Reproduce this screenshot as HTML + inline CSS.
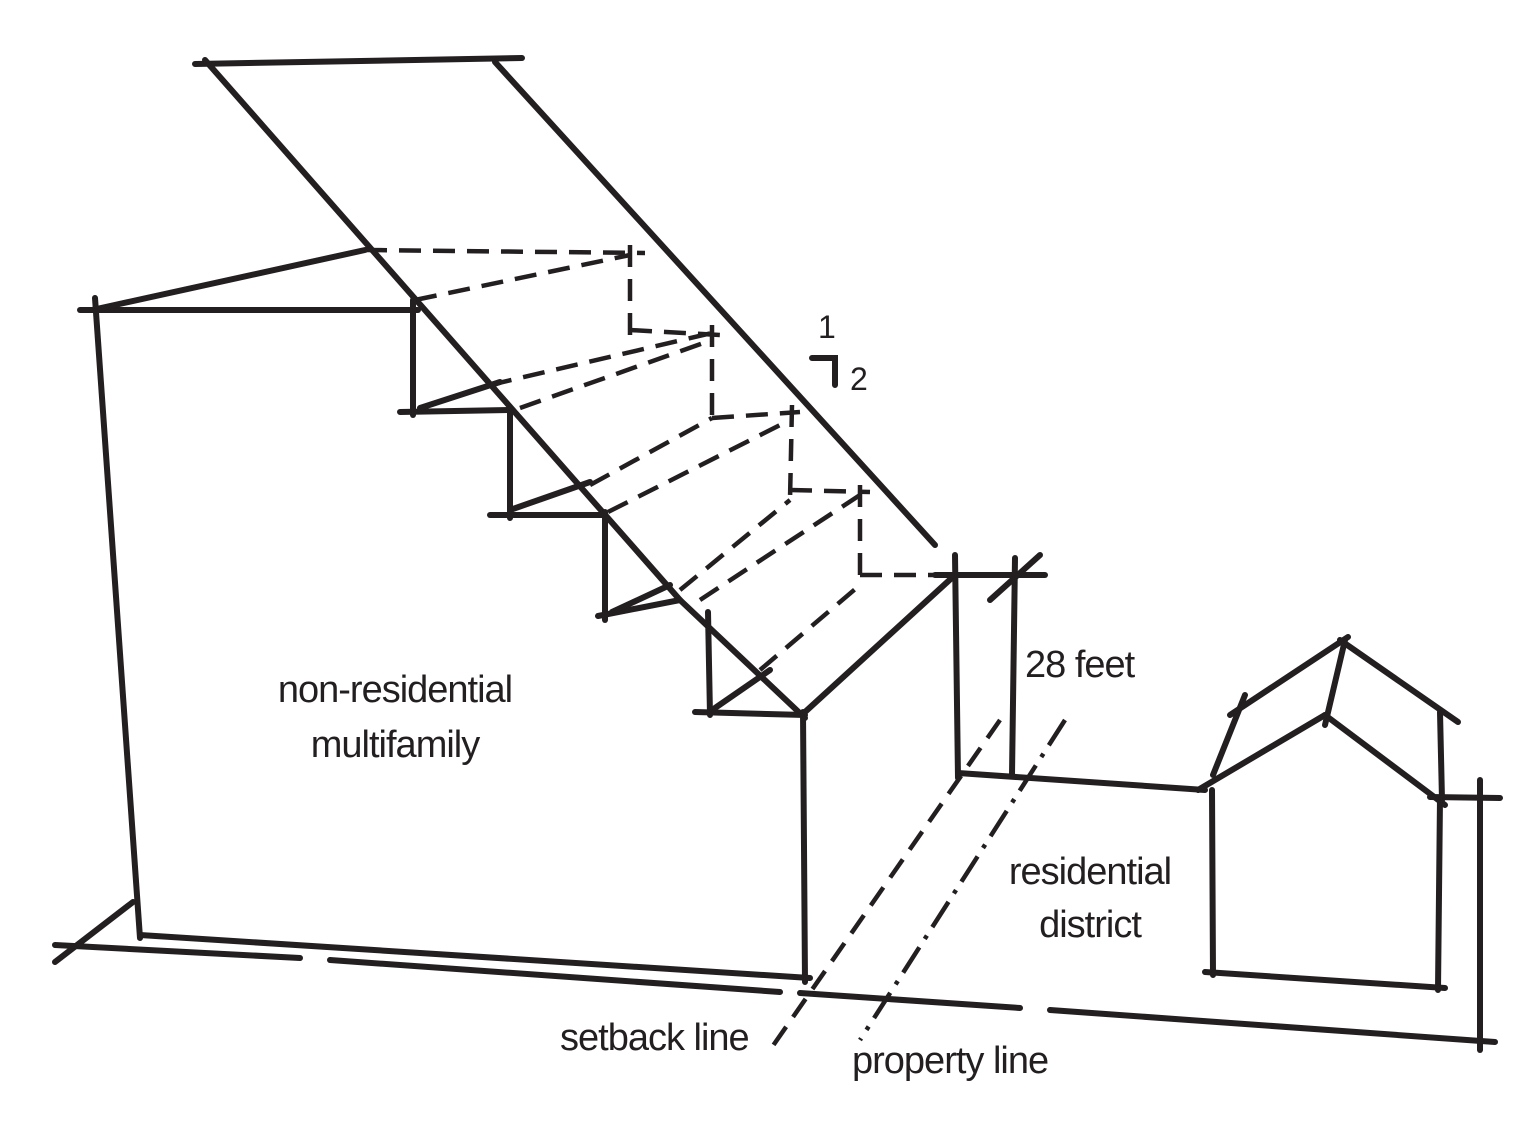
<!DOCTYPE html>
<html><head><meta charset="utf-8"><style>
html,body{margin:0;padding:0;background:#fff;}
svg{display:block}
text{font-family:"Liberation Sans",sans-serif;fill:#231f20;font-size:38px;letter-spacing:-1px}
</style></head><body>
<svg width="1529" height="1127" viewBox="0 0 1529 1127" xmlns="http://www.w3.org/2000/svg">
<g stroke="#231f20" stroke-width="6" stroke-linecap="round" fill="none">
<line x1="195" y1="64" x2="522" y2="58"/>
<line x1="205" y1="60" x2="680" y2="600"/>
<line x1="680" y1="600" x2="805" y2="718"/>
<line x1="495" y1="62" x2="935" y2="545"/>
<line x1="80" y1="310" x2="418" y2="310"/>
<line x1="92" y1="310" x2="365" y2="250"/>
<line x1="95" y1="298" x2="140" y2="938"/>
<line x1="55" y1="962" x2="133" y2="902"/>
<line x1="413" y1="300" x2="413" y2="415"/>
<line x1="400" y1="412" x2="512" y2="410"/>
<line x1="420" y1="408" x2="500" y2="382"/>
<line x1="510" y1="408" x2="510" y2="518"/>
<line x1="490" y1="515" x2="605" y2="515"/>
<line x1="510" y1="510" x2="590" y2="482"/>
<line x1="605" y1="512" x2="605" y2="620"/>
<line x1="598" y1="616" x2="680" y2="600"/>
<line x1="612" y1="612" x2="670" y2="585"/>
<line x1="708" y1="612" x2="710" y2="715"/>
<line x1="695" y1="712" x2="805" y2="715"/>
<line x1="715" y1="708" x2="770" y2="670"/>
<line x1="803" y1="712" x2="805" y2="982"/>
<line x1="805" y1="712" x2="955" y2="575"/>
<line x1="955" y1="555" x2="958" y2="778"/>
<line x1="935" y1="575" x2="1045" y2="575"/>
<line x1="1015" y1="558" x2="1012" y2="775"/>
<line x1="990" y1="600" x2="1040" y2="555"/>
<line x1="958" y1="773" x2="1205" y2="790"/>
<line x1="140" y1="935" x2="810" y2="978"/>
<line x1="55" y1="945" x2="300" y2="958"/>
<line x1="330" y1="960" x2="780" y2="992"/>
<line x1="800" y1="993" x2="1020" y2="1008"/>
<line x1="1050" y1="1010" x2="1495" y2="1042"/>
<line x1="1212" y1="790" x2="1213" y2="975"/>
<line x1="1440" y1="798" x2="1438" y2="990"/>
<line x1="1205" y1="972" x2="1445" y2="988"/>
<line x1="1198" y1="790" x2="1325" y2="715"/>
<line x1="1325" y1="715" x2="1445" y2="805"/>
<line x1="1213" y1="775" x2="1245" y2="695"/>
<line x1="1230" y1="715" x2="1348" y2="637"/>
<line x1="1340" y1="640" x2="1458" y2="722"/>
<line x1="1345" y1="640" x2="1325" y2="725"/>
<line x1="1440" y1="712" x2="1442" y2="800"/>
<line x1="1430" y1="797" x2="1500" y2="798"/>
<line x1="1480" y1="780" x2="1480" y2="1050"/>
<polyline points="812,358 835,358 835,385"/>
</g>
<g stroke="#231f20" stroke-width="4.5" fill="none" stroke-dasharray="22 12">
<line x1="365" y1="250" x2="645" y2="253"/>
<line x1="415" y1="300" x2="630" y2="255"/>
<line x1="630" y1="245" x2="630" y2="335"/>
<line x1="630" y1="330" x2="720" y2="335"/>
<line x1="490" y1="385" x2="712" y2="333"/>
<line x1="712" y1="325" x2="712" y2="420"/>
<line x1="590" y1="485" x2="712" y2="418"/>
<line x1="520" y1="408" x2="712" y2="340"/>
<line x1="712" y1="418" x2="800" y2="412"/>
<line x1="792" y1="405" x2="790" y2="500"/>
<line x1="608" y1="512" x2="790" y2="420"/>
<line x1="680" y1="590" x2="790" y2="500"/>
<line x1="790" y1="490" x2="870" y2="492"/>
<line x1="860" y1="485" x2="860" y2="580"/>
<line x1="700" y1="600" x2="860" y2="495"/>
<line x1="760" y1="670" x2="860" y2="585"/>
<line x1="860" y1="575" x2="950" y2="575"/>
<line x1="1000" y1="720" x2="770" y2="1050"/>
</g>
<line x1="1065" y1="720" x2="860" y2="1040" stroke="#231f20" stroke-width="4.5" stroke-dasharray="30 10 4 10"/>
<text x="395" y="702" text-anchor="middle">non-residential</text>
<text x="395" y="757" text-anchor="middle">multifamily</text>
<text x="1025" y="677">28 feet</text>
<text x="1090" y="884" text-anchor="middle">residential</text>
<text x="1090" y="937" text-anchor="middle">district</text>
<text x="560" y="1050">setback line</text>
<text x="852" y="1073">property line</text>
<text x="818" y="338" style="font-size:32px">1</text>
<text x="850" y="390" style="font-size:32px">2</text>
</svg>
</body></html>
